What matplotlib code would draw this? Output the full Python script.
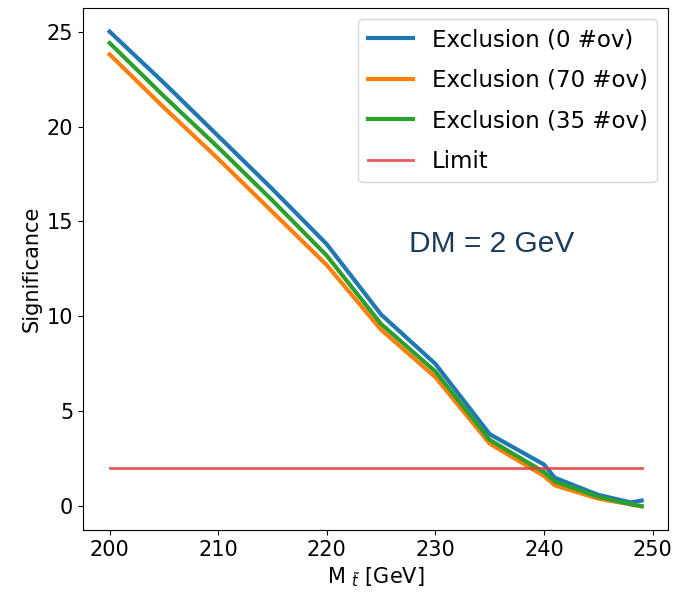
import matplotlib
matplotlib.use("Agg")
import matplotlib.pyplot as plt

# stop mass points [GeV] and significance curves
mass = [200, 205, 210, 215, 220, 225, 230, 235, 240, 241, 245, 248, 249]
excl_0 = [25.0, 22.3, 19.5, 16.7, 13.8, 10.1, 7.5, 3.8, 2.2, 1.5, 0.6, 0.2, 0.3]
excl_70 = [23.8, 21.0, 18.3, 15.5, 12.7, 9.3, 6.8, 3.3, 1.6, 1.1, 0.4, 0.1, 0.0]
excl_35 = [24.4, 21.6, 18.9, 16.1, 13.2, 9.6, 7.1, 3.5, 1.8, 1.3, 0.5, 0.1, 0.0]
limit = [2.0] * len(mass)

plt.rcParams["font.size"] = 15

fig = plt.figure(figsize=(6.75, 6.05), dpi=100)
ax = fig.add_axes([0.123, 0.124, 0.867, 0.863])

ax.plot(mass, excl_0, color="#1f77b4", linewidth=3, label="Exclusion (0 #ov)")
ax.plot(mass, excl_70, color="#ff7f0e", linewidth=3, label="Exclusion (70 #ov)")
ax.plot(mass, excl_35, color="#2ca02c", linewidth=3, label="Exclusion (35 #ov)")
ax.plot(mass, limit, color="#e03c40", linewidth=2, alpha=0.85, label="Limit")

ax.text(235.2, 13.8, "DM = 2 GeV", fontsize=21.5, color="#1b3a5c",
        family="Liberation Sans", ha="center", va="center")

ax.set_xlabel(r"M $_{\tilde{t}}$ [GeV]")
ax.set_ylabel("Significance")
ax.legend(loc="upper right", fontsize=16.5, labelspacing=0.76)

fig.savefig("out.png", dpi=100)
